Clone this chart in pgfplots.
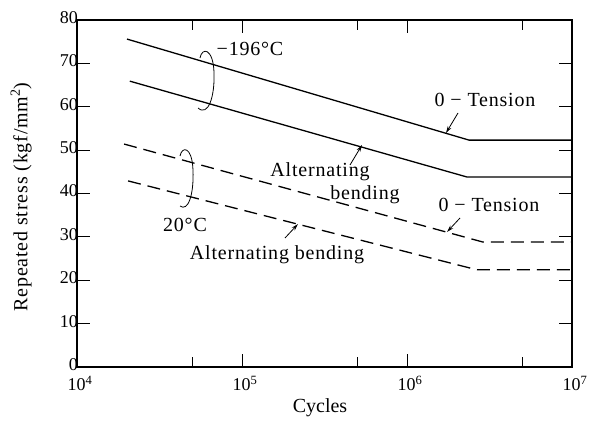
\documentclass[border=0pt]{standalone}
\usepackage{fontspec}
\setmainfont{Liberation Serif}
\newfontfamily\spaced[LetterSpace=4]{Liberation Serif}
\usepackage{pgfplots}
\pgfplotsset{compat=1.18}
\usetikzlibrary{arrows.meta}
\begin{document}
\begin{tikzpicture}
\begin{axis}[
  scale only axis,
  width=495pt, height=347pt,
  xmode=log,
  xmin=1e4, xmax=1e7, ymin=0, ymax=80,
  xtick={1e4,1e5,1e6,1e7},
  xticklabels={10\textsuperscript{4},10\textsuperscript{5},10\textsuperscript{6},10\textsuperscript{7}},
  minor xtick={5e4,5e5,5e6},
  ytick={0,10,20,30,40,50,60,70,80},
  tick align=inside,
  major tick length=13pt, minor tick length=10pt,
  axis line style={line width=1.4pt},
  every tick/.style={line width=0.9pt, black},
  tick label style={font=\fontsize{18}{18}\selectfont},
  yticklabel style={xshift=2pt, yshift=2.5pt, inner sep=1pt},
  xticklabel style={yshift=-8pt, xshift=3pt, inner sep=1pt},
  /pgf/number format/assume math mode=true,
  xlabel={Cycles},
  ylabel={\spaced Repeated stress (kgf/mm\textsuperscript{2})},
  label style={font=\fontsize{20}{20}\selectfont},
  xlabel style={at={(axis description cs:0.491,-0.118)}, anchor=center},
  ylabel style={at={(axis description cs:-0.113,0.49)}, anchor=center},
  clip=false,
]
\addplot[black, line width=1.3pt] coordinates {(2.01e4,75.6) (2.38e6,52.3) (1e7,52.3)};
\addplot[black, line width=1.3pt] coordinates {(2.09e4,65.9) (2.31e6,43.8) (1e7,43.8)};
\addplot[black, line width=1.3pt, dash pattern=on 13pt off 7pt] coordinates {(1.93e4,51.4) (2.89e6,28.8) (1e7,28.8)};
\addplot[black, line width=1.3pt, dash pattern=on 13pt off 7pt] coordinates {(2.04e4,42.9) (2.66e6,22.4) (1e7,22.4)};
\coordinate (TL) at (rel axis cs:0,1);
\end{axis}
\begin{scope}[shift={([shift={(-77pt,20pt)}]TL)}, x=1pt, y=-1pt]
\path (0,0) rectangle (608,429);
\draw[line width=0.8pt] (200,58) .. controls (202,47) and (213,48) .. (214,72) .. controls (215,97) and (208,117) .. (198,108);
\draw[line width=0.8pt] (180,156) .. controls (182,146) and (192,146) .. (193,170) .. controls (194,195) and (188,212) .. (180,206);
\begin{scope}[every node/.style={font=\fontsize{20}{20}\selectfont\spaced, inner sep=0pt}]
\node at (250,49) {−196°C};
\node at (485,100) {0 − Tension};
\node at (489,205) {0 − Tension};
\node at (320,172) {Alternating};
\node at (365,195) {bending};
\node at (185,225) {20°C};
\node at (277,255) {Alternating bending};
\end{scope}
\draw[-{Stealth[length=7pt,width=4pt]}, line width=0.8pt] (458,113) -- (446,133);
\draw[-{Stealth[length=7pt,width=4pt]}, line width=0.8pt] (350,165) -- (362,145);
\draw[-{Stealth[length=7pt,width=4pt]}, line width=0.8pt] (460,218) -- (447,232);
\draw[-{Stealth[length=7pt,width=4pt]}, line width=0.8pt] (285,238) -- (298,224);
\end{scope}
\end{tikzpicture}
\end{document}
